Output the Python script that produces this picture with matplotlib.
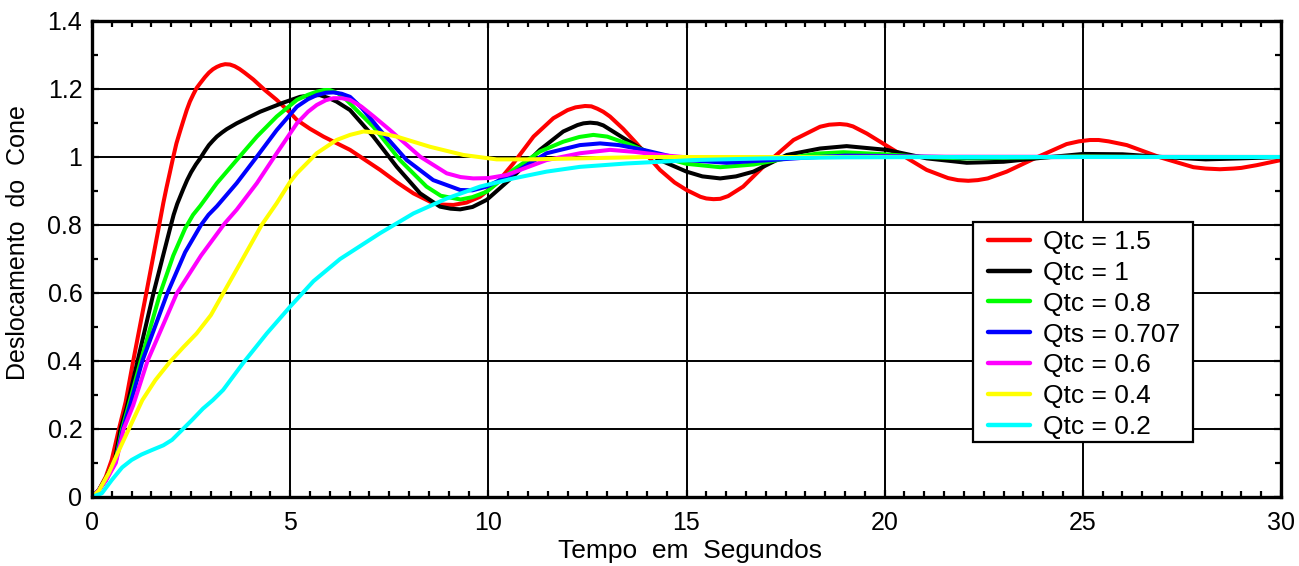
import matplotlib
matplotlib.use("Agg")
import matplotlib.pyplot as plt
from matplotlib.patches import Rectangle
from matplotlib.ticker import MultipleLocator, FuncFormatter

plt.rcParams['font.family'] = ['Liberation Sans', 'DejaVu Sans']

# Step responses of the cone displacement for several total Q values
t_q15 = [0, 0.17, 0.35, 0.5, 0.68, 0.85, 1.04, 1.37, 1.72, 1.8, 1.88, 1.96, 2.05, 2.13,
         2.22, 2.3, 2.39, 2.47, 2.56, 2.64, 2.73, 2.85, 2.95, 3.05, 3.15, 3.25, 3.36, 3.48,
         3.6, 3.72, 3.85, 4.07, 4.35, 4.66, 5.0, 5.17, 5.5, 5.84, 6.51, 7.27, 7.7, 8.11,
         8.61, 8.85, 9.12, 9.45, 9.79, 10.21, 10.63, 11.14, 11.64, 12.0, 12.2, 12.44, 12.6,
         12.75, 12.9, 13.07, 13.4, 13.74, 14.33, 14.7, 15.0, 15.35, 15.5, 15.68, 15.85,
         16.05, 16.43, 17.02, 17.7, 18.37, 18.6, 18.87, 19.05, 19.2, 19.55, 20.22, 21.06,
         21.6, 21.85, 22.11, 22.35, 22.6, 23.08, 23.84, 24.59, 24.9, 25.18, 25.4, 25.65,
         26.11, 26.95, 27.79, 28.1, 28.46, 28.8, 29.0, 29.39, 30]
y_q15 = [0, 0.02, 0.06, 0.11, 0.2, 0.28, 0.40, 0.60, 0.815, 0.865, 0.91, 0.952, 1.0,
         1.04, 1.075, 1.105, 1.138, 1.163, 1.185, 1.203, 1.217, 1.235, 1.248, 1.258, 1.265,
         1.27, 1.273, 1.272, 1.267, 1.259, 1.248, 1.228, 1.198, 1.168, 1.13, 1.109, 1.083,
         1.06, 1.021, 0.962, 0.925, 0.893, 0.864, 0.860, 0.859, 0.866, 0.883, 0.923, 0.981,
         1.06, 1.114, 1.138, 1.146, 1.150, 1.149, 1.142, 1.133, 1.119, 1.083, 1.04, 0.962,
         0.925, 0.903, 0.883, 0.878, 0.876, 0.877, 0.885, 0.913, 0.981, 1.05, 1.089, 1.095,
         1.097, 1.095, 1.09, 1.069, 1.021, 0.962, 0.938, 0.932, 0.930, 0.932, 0.937, 0.957,
         0.999, 1.038, 1.046, 1.05, 1.05, 1.046, 1.035, 0.999, 0.970, 0.966, 0.964, 0.966,
         0.968, 0.976, 0.991]

t_q10 = [0, 0.17, 0.35, 0.58, 0.72, 0.87, 1.15, 1.55, 1.97, 2.06, 2.15, 2.3, 2.4, 2.5,
         2.62, 2.73, 2.85, 2.95, 3.05, 3.15, 3.28, 3.4, 3.65, 4.24, 4.83, 5.25, 5.5, 5.75,
         6.0, 6.17, 6.51, 7.1, 7.69, 8.28, 8.78, 9.05, 9.29, 9.6, 9.96, 10.63, 11.3, 11.89,
         12.25, 12.4, 12.57, 12.75, 12.9, 13.49, 14.33, 15.0, 15.4, 15.85, 16.25, 16.69,
         17.53, 18.37, 19.04, 20.05, 21.06, 22.07, 23.0, 24.0, 25.01, 26.0, 27.0, 28.1,
         29.0, 30]
y_q10 = [0, 0.02, 0.055, 0.11, 0.2, 0.26, 0.40, 0.599, 0.79, 0.83, 0.862, 0.905, 0.932,
         0.955, 0.978, 0.996, 1.018, 1.035, 1.048, 1.06, 1.072, 1.082, 1.099, 1.133, 1.160,
         1.177, 1.181, 1.182, 1.172, 1.163, 1.138, 1.06, 0.971, 0.893, 0.854, 0.848, 0.846,
         0.853, 0.874, 0.943, 1.021, 1.075, 1.094, 1.099, 1.101, 1.099, 1.093, 1.05, 0.991,
         0.957, 0.943, 0.937, 0.943, 0.957, 1.006, 1.025, 1.032, 1.021, 0.996, 0.983, 0.986,
         0.998, 1.009, 1.008, 1.0, 0.993, 0.996, 1.0]

t_q08 = [0, 0.17, 0.35, 0.6, 0.76, 0.95, 1.23, 1.72, 2.05, 2.35, 2.55, 2.73, 3.15, 3.65,
         4.16, 4.66, 5.17, 5.45, 5.67, 5.85, 6.0, 6.2, 6.42, 6.7, 7.1, 7.77, 8.44, 8.8, 9.3,
         9.6, 9.96, 10.63, 11.3, 11.89, 12.3, 12.65, 13.0, 13.49, 14.33, 15.0, 15.85, 16.7,
         17.53, 18.3, 18.96, 20.0, 21.0, 22.0, 23.5, 25.0, 27.0, 30]
y_q08 = [0, 0.02, 0.05, 0.11, 0.2, 0.28, 0.40, 0.599, 0.71, 0.79, 0.83, 0.856, 0.923,
         0.991, 1.06, 1.119, 1.168, 1.183, 1.192, 1.197, 1.197, 1.188, 1.168, 1.135, 1.089,
         0.991, 0.913, 0.886, 0.875, 0.882, 0.898, 0.962, 1.016, 1.045, 1.059, 1.065, 1.06,
         1.04, 1.001, 0.98, 0.970, 0.978, 0.996, 1.01, 1.014, 1.008, 1.0, 0.996, 0.998,
         1.002, 1.0, 1.0]

t_q0707 = [0, 0.17, 0.35, 0.6, 0.78, 0.96, 1.27, 1.9, 2.35, 2.75, 2.94, 3.15, 3.65, 4.16,
           4.66, 5.17, 5.45, 5.67, 5.9, 6.09, 6.3, 6.51, 6.8, 7.27, 7.94, 8.61, 9.29, 9.6,
           9.96, 10.63, 11.47, 12.31, 12.82, 13.3, 13.91, 15.0, 16.01, 17.0, 18.0, 19.0,
           20.0, 22.0, 25.0, 30]
y_q0707 = [0, 0.02, 0.05, 0.105, 0.2, 0.27, 0.40, 0.599, 0.72, 0.80, 0.83, 0.855, 0.923,
           1.001, 1.079, 1.148, 1.170, 1.182, 1.189, 1.19, 1.186, 1.177, 1.145, 1.079, 0.991,
           0.932, 0.903, 0.902, 0.913, 0.952, 1.011, 1.035, 1.040, 1.035, 1.021, 0.991,
           0.983, 0.99, 0.998, 1.004, 1.003, 0.999, 1.0, 1.0]

t_q06 = [0, 0.17, 0.35, 0.6, 0.8, 1.04, 1.4, 2.14, 2.75, 3.35, 3.65, 4.16, 4.66, 5.17,
         5.45, 5.67, 5.9, 6.09, 6.3, 6.51, 6.8, 7.1, 7.52, 8.28, 8.95, 9.3, 9.62, 10.0,
         10.46, 11.47, 12.31, 13.07, 13.7, 14.33, 15.2, 16.0, 17.0, 18.0, 20.0, 30]
y_q06 = [0, 0.02, 0.048, 0.1, 0.2, 0.27, 0.40, 0.599, 0.71, 0.805, 0.845, 0.923, 1.011,
         1.099, 1.133, 1.153, 1.167, 1.173, 1.173, 1.168, 1.148, 1.12, 1.079, 1.001, 0.952,
         0.941, 0.937, 0.938, 0.947, 0.991, 1.011, 1.021, 1.015, 1.006, 0.997, 0.995, 0.997,
         1.0, 1.001, 1.0]

t_q04 = [0, 0.17, 0.42, 0.65, 0.93, 1.27, 1.6, 1.97, 2.3, 2.64, 3.0, 3.31, 3.8, 4.28,
         4.66, 5.0, 5.17, 5.67, 6.17, 6.51, 6.85, 7.2, 7.69, 8.53, 9.37, 10.21, 11.05,
         12.31, 14.0, 16.0, 30]
y_q04 = [0, 0.018, 0.07, 0.13, 0.2, 0.285, 0.344, 0.398, 0.44, 0.481, 0.535, 0.599, 0.70,
         0.80, 0.864, 0.927, 0.952, 1.011, 1.05, 1.065, 1.075, 1.072, 1.06, 1.03, 1.006,
         0.993, 0.993, 0.996, 1.0, 1.0, 1.0]

t_q02 = [0, 0.25, 0.5, 0.76, 1.0, 1.25, 1.51, 1.8, 2.02, 2.27, 2.52, 2.8, 3.05, 3.31,
         3.82, 4.41, 5.0, 5.59, 6.26, 7.27, 8.11, 8.95, 9.79, 10.63, 11.47, 12.31, 13.49,
         15.17, 17.0, 19.0, 22.0, 30]
y_q02 = [0, 0.011, 0.05, 0.087, 0.109, 0.125, 0.138, 0.152, 0.168, 0.197, 0.226, 0.26,
         0.285, 0.315, 0.395, 0.481, 0.56, 0.635, 0.70, 0.776, 0.834, 0.878, 0.913, 0.937,
         0.957, 0.971, 0.981, 0.991, 0.996, 0.999, 1.0, 1.0]

series = [
    (t_q15, y_q15, '#ff0000', 'Qtc = 1.5'),
    (t_q10, y_q10, '#000000', 'Qtc = 1'),
    (t_q08, y_q08, '#00ff00', 'Qtc = 0.8'),
    (t_q0707, y_q0707, '#0000ff', 'Qts = 0.707'),
    (t_q06, y_q06, '#ff00ff', 'Qtc = 0.6'),
    (t_q04, y_q04, '#ffff00', 'Qtc = 0.4'),
    (t_q02, y_q02, '#00ffff', 'Qtc = 0.2'),
]

W, H = 1299, 566
fig = plt.figure(figsize=(W / 100, H / 100), dpi=100)
ax = fig.add_axes([92 / W, 1 - 497 / H, 1189 / W, 476 / H])

for t, y, c, lab in series:
    ax.plot(t, y, color=c, lw=2.9, label=lab, solid_joinstyle='round',
            solid_capstyle='round', zorder=3)

ax.set_xlim(0, 30)
ax.set_ylim(0, 1.4)
ax.xaxis.set_major_locator(MultipleLocator(5))
ax.xaxis.set_minor_locator(MultipleLocator(0.5))
ax.yaxis.set_major_locator(MultipleLocator(0.2))
ax.yaxis.set_minor_locator(MultipleLocator(0.1))
fmt = FuncFormatter(lambda v, p: '%g' % round(v, 3))
ax.xaxis.set_major_formatter(fmt)
ax.yaxis.set_major_formatter(fmt)

ax.grid(True, which='major', color='black', lw=1.4, zorder=1)
ax.set_axisbelow(True)
ax.tick_params(which='both', direction='in', top=True, right=True,
               width=1.6, color='black', labelsize=18)
ax.tick_params(which='major', length=5, pad=7)
ax.tick_params(which='minor', length=4)
ax.tick_params(axis='x', which='major', pad=10)
for s in ax.spines.values():
    s.set_linewidth(2.4)
    s.set_zorder(5)

fig.text(690 / W, 1 - 551 / H, 'Tempo  em  Segundos', fontsize=19,
         ha='center', va='center')
fig.text(18 / W, 1 - 243 / H, 'Deslocamento  do  Cone', fontsize=18,
         rotation=90, ha='center', va='center')

# legend frame drawn as a plain box, entries placed inside it
box_x0, box_x1 = (973 - 92) / 1189, (1193 - 92) / 1189
box_y0, box_y1 = (497 - 442) / 476, (497 - 222) / 476
ax.add_patch(Rectangle((box_x0, box_y0), box_x1 - box_x0, box_y1 - box_y0,
                       transform=ax.transAxes, facecolor='white', edgecolor='black',
                       lw=1.6, zorder=6, clip_on=False))
leg = ax.legend(loc='upper left', bbox_to_anchor=((988 - 92) / 1189, (497 - 230) / 476),
                fontsize=19, frameon=False, borderaxespad=0, borderpad=0,
                handlelength=1.59, handletextpad=0.49, labelspacing=0.26)
for ln in leg.get_lines():
    ln.set_linewidth(3.2)
leg.set_zorder(7)

fig.savefig('out.png', dpi=100)
